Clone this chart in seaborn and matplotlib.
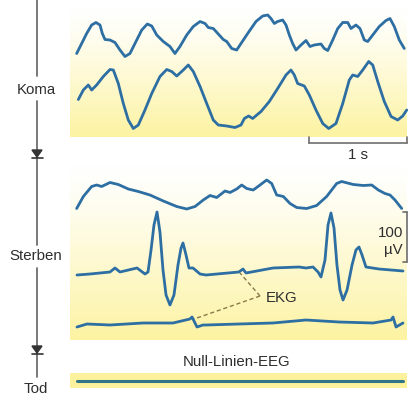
import numpy as np
import pandas as pd
import matplotlib
matplotlib.use("Agg")
import matplotlib.pyplot as plt
import seaborn as sns
from matplotlib.colors import LinearSegmentedColormap
from matplotlib.patches import Polygon, Rectangle

sns.set_theme(style="white")
plt.rcParams["font.family"] = ["Liberation Sans", "DejaVu Sans"]

# ---------------- data (time in s, amplitude in µV) ----------------
koma1_t = [0.068, 0.119, 0.170, 0.221, 0.265, 0.306, 0.330, 0.357, 0.408, 0.459, 0.510, 0.561,
           0.612, 0.663, 0.732, 0.789, 0.834, 0.885, 0.952, 1.020, 1.071, 1.122, 1.191, 1.258,
           1.327, 1.378, 1.411, 1.462, 1.513, 1.564, 1.599, 1.650, 1.701, 1.745, 1.813, 1.898,
           1.966, 2.017, 2.051, 2.085, 2.119, 2.170, 2.204, 2.238, 2.272, 2.306, 2.357, 2.408,
           2.449, 2.493, 2.561, 2.595, 2.630, 2.681, 2.732, 2.783, 2.834, 2.867, 2.918, 2.959,
           3.003, 3.038, 3.089, 3.156, 3.224, 3.265, 3.309, 3.360, 3.411]
koma1_v = [-31, -11, 9, 26, 31, 26, 9, -3, -4, -9, -24, -37,
           -31, -11, 16, 28, 24, 6, -7, -17, -31, -17, 6, 23,
           33, 29, 21, 19, 8, -3, -7, -21, -24, -11, 9, 33,
           44, 46, 39, 29, 33, 36, 26, 6, -11, -24, -14, -5,
           -17, -14, -12, -21, -25, -4, 19, 31, 31, 19, 26, 19,
           -4, -7, 6, 23, 35, 39, 23, -4, -21]

koma2_t = [0.085, 0.136, 0.187, 0.221, 0.272, 0.340, 0.408, 0.442, 0.493, 0.544, 0.595, 0.646,
           0.697, 0.765, 0.834, 0.918, 0.987, 1.038, 1.089, 1.156, 1.207, 1.258, 1.327, 1.395,
           1.462, 1.513, 1.599, 1.684, 1.745, 1.779, 1.823, 1.864, 1.949, 2.034, 2.119, 2.204,
           2.255, 2.289, 2.323, 2.391, 2.442, 2.510, 2.579, 2.640, 2.714, 2.783, 2.850, 2.885,
           2.936, 2.987, 3.048, 3.089, 3.140, 3.207, 3.276, 3.344, 3.395, 3.436]
koma2_v = [1, 20, 30, 20, 30, 47, 61, 60, 33, -7, -40, -57,
           -50, -20, 13, 47, 61, 57, 48, 60, 70, 57, 27, -7,
           -40, -50, -52, -55, -50, -37, -32, -37, -23, -3, 23, 50,
           60, 50, 33, 28, 10, -20, -47, -57, -47, -7, 40, 50,
           47, 60, 77, 70, 37, -3, -33, -40, -32, -20]

sterb1_t = [0.068, 0.136, 0.221, 0.272, 0.323, 0.408, 0.493, 0.595, 0.697, 0.816, 0.952, 1.089,
            1.191, 1.276, 1.360, 1.429, 1.497, 1.582, 1.633, 1.701, 1.752, 1.803, 1.870, 1.939,
            2.007, 2.058, 2.109, 2.177, 2.245, 2.313, 2.415, 2.517, 2.619, 2.721, 2.772, 2.891,
            2.993, 3.079, 3.146, 3.214, 3.265, 3.316, 3.385]
sterb1_v = [-27, -3, 17, 20, 17, 25, 21, 12, 7, 0, -12, -23,
            -28, -23, -10, -1, -5, 8, 5, 12, 20, 13, 10, 20,
            30, 23, 0, -3, -17, -25, -27, -21, -3, 23, 27, 21,
            19, 20, 10, 3, 0, -10, -27]

ekg_t = [0.071, 0.204, 0.408, 0.459, 0.510, 0.684, 0.765, 0.796, 0.827, 0.857, 0.888, 0.918,
         0.949, 0.980, 1.020, 1.061, 1.102, 1.133, 1.153, 1.184, 1.214, 1.255, 1.327, 1.388,
         1.724, 1.765, 1.796, 2.071, 2.337, 2.408, 2.480, 2.531, 2.561, 2.602, 2.633, 2.663,
         2.694, 2.724, 2.755, 2.786, 2.827, 2.878, 2.918, 2.949, 2.980, 3.020, 3.153, 3.398]
ekg_v = [-6, -4, 0, 8, 0, 8, -4, 0, 44, 94, 120, 80,
         4, -46, -66, -46, 14, 48, 58, 34, 8, 8, -4, -6,
         0, 6, -2, 8, 10, 8, 10, 0, -10, 24, 94, 118,
         88, 14, -36, -56, -36, 14, 44, 50, 34, 10, 6, 2]

sterb3_t = [0.071, 0.173, 0.408, 0.745, 1.051, 1.224, 1.245, 1.296, 1.357, 1.388, 1.724, 2.071,
            2.408, 2.745, 3.092, 3.276, 3.296, 3.327, 3.398]
sterb3_v = [-8, -2, -4, 0, 0, 8, 12, -8, -4, -4, -2, 0,
            6, 2, 0, 6, 12, -8, 0]

tod_t = [0.071, 3.398]
tod_v = [0, 0]

# channel baselines (µV on the stacked axis)
channels = [
    ("Koma 1", koma1_t, koma1_v, 720),
    ("Koma 2", koma2_t, koma2_v, 596),
    ("Sterben 1", sterb1_t, sterb1_v, 406),
    ("Sterben EKG", ekg_t, ekg_v, 252),
    ("Sterben 3", sterb3_t, sterb3_v, 150),
]

stage_labels = ["Koma", "Sterben", "Tod"]
SCALE_T = 1.0      # s
SCALE_UV = 100     # µV

line_col = "#2d6ea3"
grey = "#6e6e6e"
txt = "#2e2e2e"

fig = plt.figure(figsize=(4.12, 3.98), dpi=100)
deco = fig.add_axes([0, 0, 1, 1])
deco.set_xlim(0, 412)
deco.set_ylim(398, 0)
deco.axis("off")

# gradient panels
cmap = LinearSegmentedColormap.from_list("yel", ["#ffffff", "#fdf3a2"])
grad = (np.linspace(0, 1, 200) ** 1.2).reshape(-1, 1)
deco.imshow(grad, extent=(70, 407, 137, 8), cmap=cmap, aspect="auto",
            origin="upper", vmin=0, vmax=1, zorder=0)
deco.imshow(grad, extent=(70, 407, 340, 165), cmap=cmap, aspect="auto",
            origin="upper", vmin=0, vmax=1, zorder=0)
deco.add_patch(Rectangle((70, 373), 337, 15, color="#fcf19c", lw=0, zorder=0))

# stage axis
for y0, y1 in [(0, 76), (101, 245), (268, 377)]:
    deco.plot([37, 37], [y0, y1], color=grey, lw=1.3, zorder=1)
for ya in [150, 346]:
    deco.add_patch(Polygon([(32, ya), (42, ya), (37, ya + 7)], closed=True,
                           color="#333333", zorder=2))
    deco.plot([32, 43], [ya + 8, ya + 8], color="#333333", lw=1.2, zorder=2)
for lab, y in zip(stage_labels, [90, 256, 389]):
    deco.text(36, y, lab, ha="center", va="center", fontsize=10.8, color=txt)

# traces
ax = fig.add_axes([0, 0, 1, 1], facecolor="none")
for name, t, v, base in channels:
    df = pd.DataFrame({"t": t, "v": np.array(v) + base})
    sns.lineplot(data=df, x="t", y="v", ax=ax, sort=False, estimator=None,
                 color=line_col, lw=2.0, solid_joinstyle="round",
                 solid_capstyle="round")
df = pd.DataFrame({"t": tod_t, "v": np.array(tod_v) + 34})
sns.lineplot(data=df, x="t", y="v", ax=ax, sort=False, estimator=None,
             color="#2f7587", lw=2.2)
ax.set_xlim(-70 / 98, 342 / 98)
ax.set_ylim(0, 796)
ax.axis("off")

# scale bars (data units)
t_end = 337 / 98
ax.plot([t_end - SCALE_T, t_end], [510, 510], color=grey, lw=1.2)
for tt in [t_end - SCALE_T, t_end]:
    ax.plot([tt, tt], [510, 522], color=grey, lw=1.2)
ax.plot([t_end, t_end], [272, 272 + SCALE_UV], color=grey, lw=1.2)
for yy in [272, 272 + SCALE_UV]:
    ax.plot([t_end - 0.045, t_end], [yy, yy], color=grey, lw=1.2)

deco.text(358, 155, "1 s", ha="center", va="center", fontsize=10.8, color=txt)
deco.text(403, 233, "100", ha="right", va="center", fontsize=10.8, color=txt)
deco.text(403, 250, "µV", ha="right", va="center", fontsize=10.8, color=txt)

# EKG annotation
deco.plot([260, 240], [296, 273], color="#8a7a4a", lw=1.0, ls=(0, (3, 2)), zorder=3)
deco.plot([260, 194], [296, 319], color="#8a7a4a", lw=1.0, ls=(0, (3, 2)), zorder=3)
deco.text(282, 298, "EKG", ha="center", va="center", fontsize=10.8, color=txt)
deco.text(237, 362, "Null-Linien-EEG", ha="center", va="center", fontsize=10.8, color=txt)

fig.savefig("out.png", dpi=100)
